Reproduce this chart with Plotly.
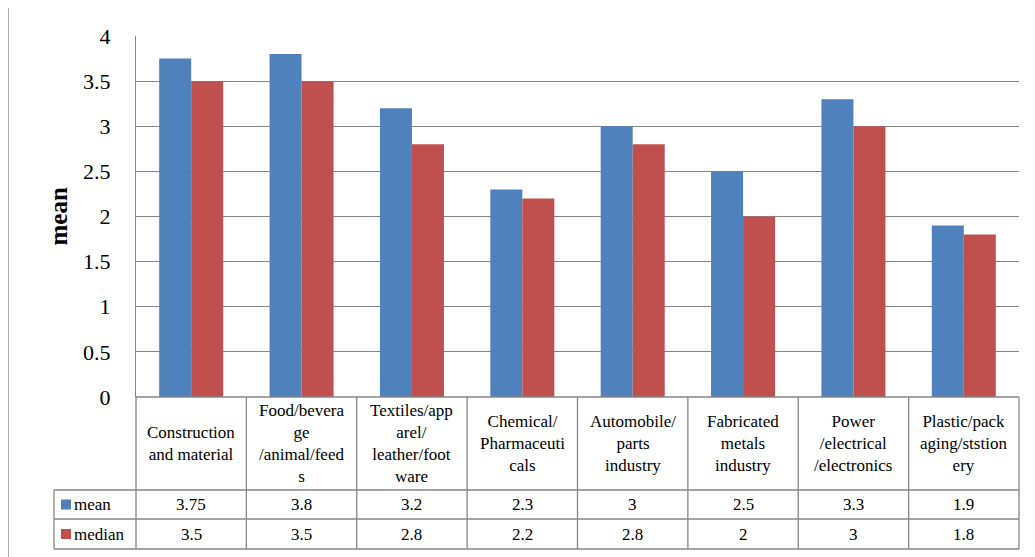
import plotly.graph_objects as go

categories = [
    "Construction<br>and material",
    "Food/bevera<br>ge<br>/animal/feed<br>s",
    "Textiles/app<br>arel/<br>leather/foot<br>ware",
    "Chemical/<br>Pharmaceuti<br>cals",
    "Automobile/<br>parts<br>industry",
    "Fabricated<br>metals<br>industry",
    "Power<br>/electrical<br>/electronics",
    "Plastic/pack<br>aging/ststion<br>ery",
]
mean_vals = [3.75, 3.8, 3.2, 2.3, 3, 2.5, 3.3, 1.9]
median_vals = [3.5, 3.5, 2.8, 2.2, 2.8, 2, 3, 1.8]
series_names = ["mean", "median"]
series_colors = ["#4F81BD", "#C0504D"]
y_ticks = [0, 0.5, 1, 1.5, 2, 2.5, 3, 3.5, 4]

FONT = "Liberation Serif, Times New Roman, serif"
GRID = "#868686"
OFF = 8  # page body margin
W, H = 1035 - OFF, 557 - OFF
# plot area in page pixels: left 136, right 1019, top 36, bottom 397
PL, PR, PT, PB = 136, 1019, 36, 397
L, T = PL - OFF, PT - OFF
R, B = W - (PR - OFF), H - (PB - OFF)
pw, ph = W - L - R, H - T - B

def px_x(px):
    return (px - PL) / pw

def px_y(py):
    return (PB - py) / ph

n = len(categories)
xs = list(range(n))

fig = go.Figure()
for name, vals, col in zip(series_names, [mean_vals, median_vals], series_colors):
    fig.add_trace(go.Bar(x=xs, y=vals, name=name, marker=dict(color=col, line=dict(width=0))))

shapes = []
annotations = []
line = dict(color=GRID, width=1.3)

# table geometry (page pixels)
y_head_bot = 490
y_row1_bot = 519
y_row2_bot = 549
x_leg_left = 54

shapes.append(dict(type="line", xref="paper", yref="paper", x0=0, x1=1, y0=0, y1=0, line=line))
for yy in [y_head_bot, y_row1_bot, y_row2_bot]:
    shapes.append(dict(type="line", xref="paper", yref="paper", x0=px_x(x_leg_left), x1=1,
                       y0=px_y(yy), y1=px_y(yy), line=line))
for i in range(n + 1):
    shapes.append(dict(type="line", xref="paper", yref="paper", x0=i / n, x1=i / n,
                       y0=0, y1=px_y(y_row2_bot), line=line))
shapes.append(dict(type="line", xref="paper", yref="paper", x0=px_x(x_leg_left), x1=px_x(x_leg_left),
                   y0=px_y(y_head_bot), y1=px_y(y_row2_bot), line=line))
# outer chart border
shapes.append(dict(type="rect", xref="paper", yref="paper", x0=px_x(8), x1=px_x(1080),
                   y0=px_y(620), y1=px_y(6), line=dict(color=GRID, width=1.3), layer="below"))

for i, c in enumerate(categories):
    annotations.append(dict(x=(i + 0.5) / n, y=px_y(443), xref="paper", yref="paper", text=c,
                            showarrow=False, xanchor="center", yanchor="middle", align="center",
                            font=dict(family=FONT, size=17, color="black")))
row_centers = [px_y((y_head_bot + y_row1_bot) / 2), px_y((y_row1_bot + y_row2_bot) / 2)]
for name, vals, col, yc in zip(series_names, [mean_vals, median_vals], series_colors, row_centers):
    for i, v in enumerate(vals):
        annotations.append(dict(x=(i + 0.5) / n, y=yc, xref="paper", yref="paper", text=f"{v:g}",
                                showarrow=False, xanchor="center", yanchor="middle",
                                font=dict(family=FONT, size=17, color="black")))
    shapes.append(dict(type="rect", xref="paper", yref="paper", x0=px_x(61), x1=px_x(71),
                       y0=yc - 5 / ph, y1=yc + 5 / ph, fillcolor=col, line=dict(width=0)))
    annotations.append(dict(x=px_x(72), y=yc, xref="paper", yref="paper", text=name,
                            showarrow=False, xanchor="left", yanchor="middle",
                            font=dict(family=FONT, size=17, color="black")))

annotations.append(dict(x=px_x(58), y=0.5, xref="paper", yref="paper", text="<b>mean</b>",
                        showarrow=False, textangle=-90, xanchor="center", yanchor="middle",
                        font=dict(family=FONT, size=25, color="black")))

fig.update_layout(
    width=W, height=H,
    margin=dict(l=L, r=R, t=T, b=B),
    paper_bgcolor="white", plot_bgcolor="white",
    barmode="group", bargap=0.42, bargroupgap=0,
    showlegend=False,
    shapes=shapes, annotations=annotations,
    xaxis=dict(range=[-0.5, n - 0.5], showticklabels=False, showgrid=False, zeroline=False,
               showline=False, ticks=""),
    yaxis=dict(range=[0, 4], tickvals=y_ticks, ticktext=[f"{t:g}" for t in y_ticks],
               showgrid=True, gridcolor=GRID, gridwidth=1.3, zeroline=False,
               showline=True, linecolor=GRID, linewidth=1.3, ticks="",
               ticklabelstandoff=20,
               tickfont=dict(family=FONT, size=22, color="black")),
)

fig.write_html("out.html")
